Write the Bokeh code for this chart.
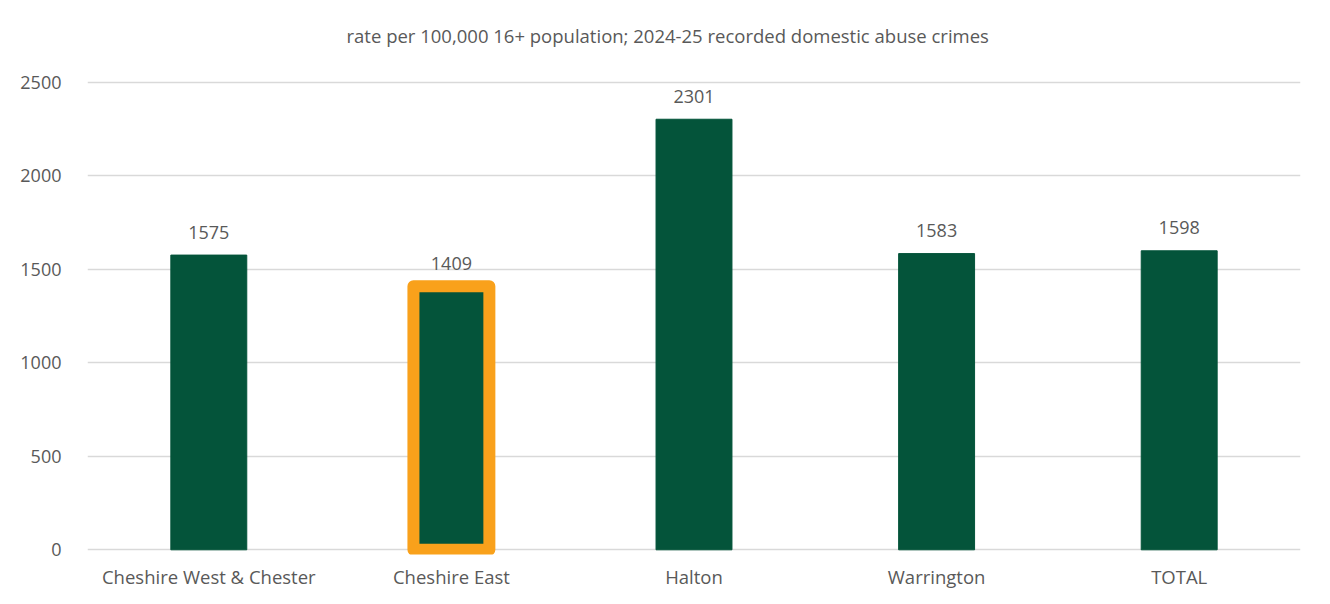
from bokeh.plotting import figure
from bokeh.models import Range1d, FixedTicker, ColumnDataSource, Title
from bokeh.core.properties import value
from bokeh.embed import file_html
from bokeh.resources import INLINE

categories = ["Cheshire West & Chester", "Cheshire East", "Halton", "Warrington", "TOTAL"]
rates = [1575, 1409, 2301, 1583, 1598]
labels = [str(v) for v in rates]
highlight = ["Cheshire East"]
y_ticks = [0, 500, 1000, 1500, 2000, 2500]
title_text = "rate per 100,000 16+ population; 2024-25 recorded domestic abuse crimes"

FONT = "Open Sans"
TXT = "#595959"
GRID = "#D9D9D9"
GREEN = "#04543A"
ORANGE = "#F9A11B"

src = ColumnDataSource(dict(cat=categories, rate=rates, label=labels))

p = figure(x_range=categories, y_range=Range1d(-25.1, 2614.9),
           width=1314, height=591, output_backend="svg", toolbar_location=None,
           min_border_left=87, min_border_right=14, min_border_top=60, min_border_bottom=10)

t = Title(text=title_text, align="left", text_font=FONT, text_font_size="18.5px",
          text_color=TXT, text_font_style="normal", offset=259, standoff=25)
p.add_layout(t, "above")

p.vbar(x="cat", top="rate", width=0.313, source=src, color=GREEN)

hsrc = ColumnDataSource(dict(cat=highlight, top=[rates[categories.index(h)] for h in highlight]))
p.vbar(x="cat", top="top", bottom=0, width=0.313, source=hsrc,
       fill_color=None, line_color=ORANGE, line_width=12, line_join="round")

p.text(x="cat", y="rate", text="label", source=src, text_align="center",
       text_baseline="alphabetic", y_offset=-23, text_font=value(FONT),
       text_font_size="18px", text_color=TXT)

p.outline_line_color = None
p.xgrid.grid_line_color = None
p.ygrid.grid_line_color = GRID
p.ygrid.grid_line_width = 1.5
p.yaxis.ticker = FixedTicker(ticks=y_ticks)
for ax in (p.xaxis[0], p.yaxis[0]):
    ax.axis_line_color = None
    ax.major_tick_line_color = None
    ax.minor_tick_line_color = None
    ax.major_label_text_font = FONT
    ax.major_label_text_font_size = "18px"
    ax.major_label_text_color = TXT
p.yaxis.major_label_standoff = 20
p.xaxis.major_label_text_font_size = "18.5px"
p.xaxis.major_label_standoff = 3

open("out.html", "w").write(file_html(p, INLINE))
